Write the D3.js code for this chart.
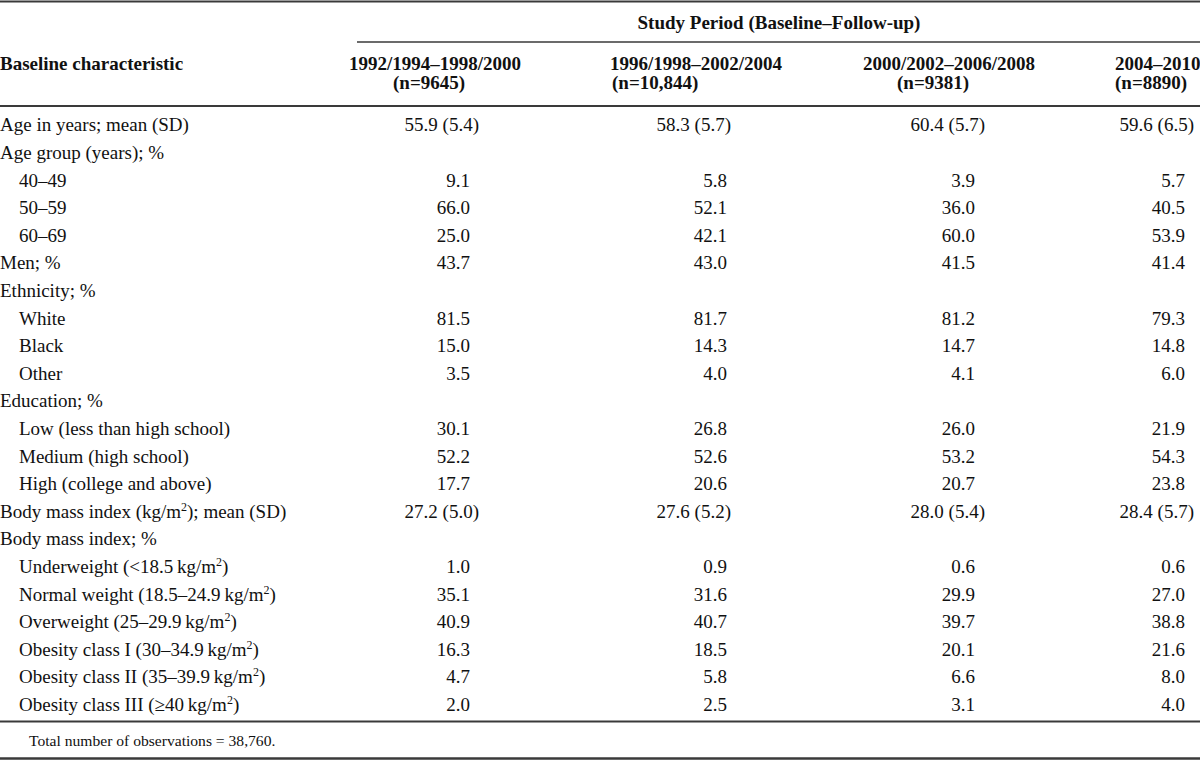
<!DOCTYPE html>
<html>
<head>
<meta charset="utf-8">
<script src="https://cdn.jsdelivr.net/npm/d3@7"></script>
<style>
  html, body { margin: 0; padding: 0; background: #fff; }
  svg { display: block; }
  text { font-family: "Liberation Serif", "Times New Roman", serif; fill: #111; }
</style>
</head>
<body>
<svg id="chart" width="1200" height="761"></svg>
<script>
// ---------- DATA ----------
const spanTitle = "Study Period (Baseline\u2013Follow-up)";
const stubHeader = "Baseline characteristic";
const periods = ["1992/1994\u20131998/2000", "1996/1998\u20132002/2004", "2000/2002\u20132006/2008", "2004\u20132010"];
const sampleSizes = ["(n=9645)", "(n=10,844)", "(n=9381)", "(n=8890)"];

const rowLabels = [
  "Age in years; mean (SD)",
  "Age group (years); %",
  "40\u201349",
  "50\u201359",
  "60\u201369",
  "Men; %",
  "Ethnicity; %",
  "White",
  "Black",
  "Other",
  "Education; %",
  "Low (less than high school)",
  "Medium (high school)",
  "High (college and above)",
  "Body mass index (kg/m^2); mean (SD)",
  "Body mass index; %",
  "Underweight (<18.5\u2009kg/m^2)",
  "Normal weight (18.5\u201324.9\u2009kg/m^2)",
  "Overweight (25\u201329.9\u2009kg/m^2)",
  "Obesity class I (30\u201334.9\u2009kg/m^2)",
  "Obesity class II (35\u201339.9\u2009kg/m^2)",
  "Obesity class III (\u226540\u2009kg/m^2)"
];
const rowIndented = [false,false,true,true,true,false,false,true,true,true,false,true,true,true,false,false,true,true,true,true,true,true];

// values per study period (null = heading row, no value)
const period1 = [55.9, null, 9.1, 66.0, 25.0, 43.7, null, 81.5, 15.0, 3.5, null, 30.1, 52.2, 17.7, 27.2, null, 1.0, 35.1, 40.9, 16.3, 4.7, 2.0];
const period2 = [58.3, null, 5.8, 52.1, 42.1, 43.0, null, 81.7, 14.3, 4.0, null, 26.8, 52.6, 20.6, 27.6, null, 0.9, 31.6, 40.7, 18.5, 5.8, 2.5];
const period3 = [60.4, null, 3.9, 36.0, 60.0, 41.5, null, 81.2, 14.7, 4.1, null, 26.0, 53.2, 20.7, 28.0, null, 0.6, 29.9, 39.7, 20.1, 6.6, 3.1];
const period4 = [59.6, null, 5.7, 40.5, 53.9, 41.4, null, 79.3, 14.8, 6.0, null, 21.9, 54.3, 23.8, 28.4, null, 0.6, 27.0, 38.8, 21.6, 8.0, 4.0];
// standard deviations for the "mean (SD)" rows
const sdRows = [0, 14];
const sdAge = [5.4, 5.7, 5.7, 6.5];
const sdBmi = [5.0, 5.2, 5.4, 5.7];

const footnote = "Total number of observations = 38,760.";

// ---------- LAYOUT ----------
const periodValues = [period1, period2, period3, period4];
const sdByRow = {0: sdAge, 14: sdBmi};

const svg = d3.select("#chart");
const W = 1200;
const fs = 19;

const y = d3.scaleBand()
  .domain(d3.range(rowLabels.length))
  .range([111, 111 + rowLabels.length * 27.6]);

const colIdx = d3.range(periods.length);
const pctRight = d3.scaleOrdinal().domain(colIdx).range([470, 727, 975, 1185]);
const meanRight = d3.scaleOrdinal().domain(colIdx).range([479, 731, 985, 1194]);
const hdrX1 = d3.scaleOrdinal().domain(colIdx).range([349, 610, 863, 1115]);
const hdrX2 = d3.scaleOrdinal().domain(colIdx).range([393, 612, 897, 1115]);

function baseline(i) { return y(i) + y.bandwidth() / 2 + 6.5; }

// rules
const rules = [
  {x1: 0, x2: W, y: 1.5, w: 2.2},
  {x1: 357, x2: W, y: 42, w: 1.6},
  {x1: 0, x2: W, y: 106, w: 2.2},
  {x1: 0, x2: W, y: 721.5, w: 2.2},
  {x1: 0, x2: W, y: 758.5, w: 2.4}
];
svg.selectAll("line.rule").data(rules).join("line")
  .attr("class", "rule")
  .attr("x1", d => d.x1).attr("x2", d => d.x2)
  .attr("y1", d => d.y).attr("y2", d => d.y)
  .attr("stroke", "#3a3a3a").attr("stroke-width", d => d.w);

// header
svg.append("text").attr("x", 779).attr("y", 28.5)
  .attr("text-anchor", "middle").attr("font-weight", "bold").attr("font-size", fs)
  .text(spanTitle);
svg.append("text").attr("x", 0).attr("y", 69.5)
  .attr("font-weight", "bold").attr("font-size", fs)
  .text(stubHeader);
svg.selectAll("text.h1").data(periods).join("text")
  .attr("class", "h1").attr("x", (d, i) => hdrX1(i)).attr("y", 69.5)
  .attr("font-weight", "bold").attr("font-size", fs).text(d => d);
svg.selectAll("text.h2").data(sampleSizes).join("text")
  .attr("class", "h2").attr("x", (d, i) => hdrX2(i)).attr("y", 88.5)
  .attr("font-weight", "bold").attr("font-size", fs).text(d => d);

// row labels with superscripts
const labels = svg.selectAll("text.lab").data(rowLabels).join("text")
  .attr("class", "lab")
  .attr("x", (d, i) => rowIndented[i] ? 19 : 0)
  .attr("y", (d, i) => baseline(i))
  .attr("font-size", fs);
labels.each(function(d) {
  const t = d3.select(this);
  const parts = d.split("^2");
  parts.forEach((p, k) => {
    t.append("tspan").text(p).attr("dy", k > 0 ? 7 : null);
    if (k < parts.length - 1) {
      t.append("tspan").text("2").attr("font-size", 12).attr("dy", -7);
    }
  });
});

// values
const cells = [];
rowLabels.forEach((lab, r) => {
  periodValues.forEach((vals, c) => {
    const v = vals[r];
    if (v === null) return;
    const isMean = sdRows.includes(r);
    const txt = isMean ? `${v.toFixed(1)} (${sdByRow[r][c].toFixed(1)})` : v.toFixed(1);
    cells.push({r, c, txt, isMean});
  });
});
svg.selectAll("text.val").data(cells).join("text")
  .attr("class", "val")
  .attr("x", d => d.isMean ? meanRight(d.c) : pctRight(d.c))
  .attr("y", d => baseline(d.r))
  .attr("text-anchor", "end")
  .attr("font-size", fs)
  .text(d => d.txt);

// footnote
svg.append("text").attr("x", 29).attr("y", 746)
  .attr("font-size", 15.6).text(footnote);
</script>
</body>
</html>
